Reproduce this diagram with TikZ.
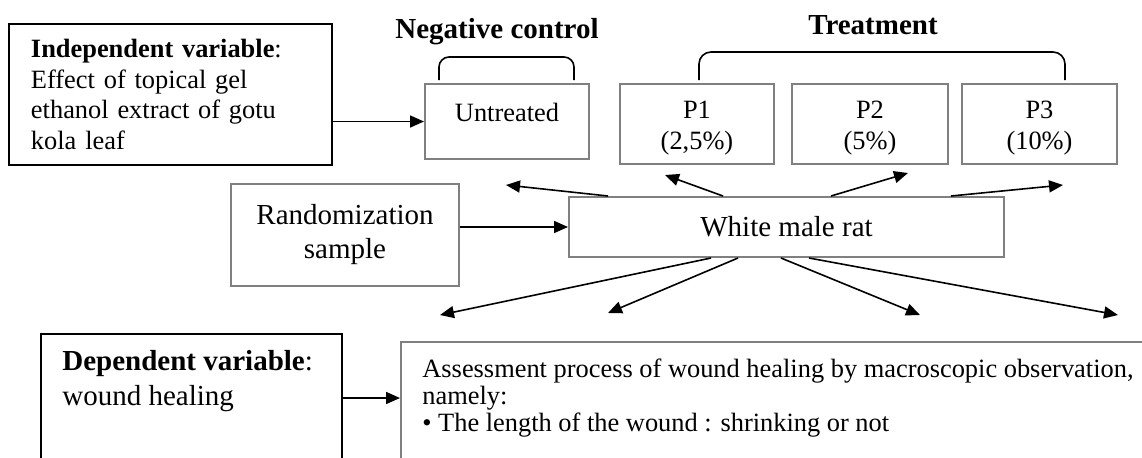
\documentclass[tikz,border=0pt]{standalone}
\usepackage{fontspec}
\setmainfont{Liberation Serif}
\usepackage{tikz}
\usetikzlibrary{
  arrows.meta,
  calc,
  positioning
}
\definecolor{framegray}{RGB}{128,128,128}
\tikzset{
  graybox/.style={draw=framegray,line width=1pt,inner sep=0pt,anchor=north west},
  blackbox/.style={draw=black,line width=1pt,inner sep=0pt,anchor=north west},
  bodytext/.style={font=\fontsize{13.2}{15.5}\selectfont,align=center,inner sep=0pt},
  linetext/.style={font=\fontsize{13.2}{13.5}\selectfont,inner sep=0pt,anchor=base west},
  headtext/.style={font=\fontsize{14.5}{17}\selectfont\bfseries,inner sep=0pt},
  bracket/.style={line width=0.8pt,rounded corners=5pt},
  flow/.style={-{Triangle[length=7pt,width=6pt]},line width=0.8pt}
}

\begin{document}
\begin{tikzpicture}[x=0.5pt,y=-0.5pt]
  \useasboundingbox (0,0) rectangle (1142,457);
  \clip (0,0) rectangle (1142,457);
  % variables
  \node[blackbox,minimum width=161.5pt,minimum height=70.5pt,inner xsep=11pt,
    text width=139.5pt,align=left,font=\fontsize{13.2}{15.3}\selectfont] (indep) at (8,23)
    {\textbf{Independent variable}:\\Effect of topical gel\\ethanol extract of gotu\\kola leaf};
  \node[blackbox,minimum width=150.5pt,minimum height=64pt] (dep) at (40,333) {};
  \node[anchor=north west,inner sep=0pt,align=left,font=\fontsize{14.5}{17.5}\selectfont]
    (deptext) at ($(dep.north west)+(22,17)$) {\textbf{Dependent variable}:\\wound healing};
  % groups
  \node[graybox,minimum width=82pt,minimum height=37.5pt] (untr) at (424,83) {};
  \node[bodytext] (untrtext) at ($(untr.north)+(0,29)$) {Untreated};
  \node[graybox,minimum width=77pt,minimum height=40pt] (pone) at (619,83) {};
  \node[bodytext] (ponetext) at ($(pone.center)+(0,4.5)$) {P1\\(2,5\%)};
  \node[graybox,minimum width=78pt,minimum height=40pt] (ptwo) at (791,83) {};
  \node[bodytext] (ptwotext) at ($(ptwo.center)+(0,4.5)$) {P2\\(5\%)};
  \node[graybox,minimum width=77.5pt,minimum height=40pt] (pthree) at (961,83) {};
  \node[bodytext] (pthreetext) at ($(pthree.center)+(0,4.5)$) {P3\\(10\%)};
  \node[headtext] (negctrl) at (497,32) {Negative control};
  \node[headtext] (treat) at (873,25) {Treatment};
  \draw[bracket] ($(untr.north west)+(15,-3)$) |- ($(untr.north east)+(-16,-26)$)
    -- ($(untr.north east)+(-16,-3)$);
  \draw[bracket,rounded corners=6pt] ($(pone.north west)+(80,-3)$) |- ($(pthree.north east)+(-53,-31)$)
    -- ($(pthree.north east)+(-53,-3)$);
  % sample
  \node[graybox,minimum width=114pt,minimum height=51pt,align=center,
    font=\fontsize{14.5}{17}\selectfont] (rand) at (230,183) {Randomization\\sample};
  \node[graybox,minimum width=217.5pt,minimum height=30pt,
    font=\fontsize{14.5}{17}\selectfont] (rat) at (568,196) {White male rat};
  \node[graybox,minimum width=380pt,minimum height=65pt] (assess) at (400,341) {};
  \node[linetext] (assessa) at ($(assess.north west)+(22,36)$)
    {Assessment process of wound healing by macroscopic observation,};
  \node[linetext] (assessb) at ($(assessa.base west)+(0,27)$) {namely:};
  \node[linetext] (assessc) at ($(assessb.base west)+(0,27)$)
    {\textbullet{} The length of the wound : shrinking or not};
  % arrow ends
  \coordinate (upuntr) at (506,185);
  \coordinate (upone) at (665,175);
  \coordinate (uptwo) at (908,173);
  \coordinate (upthree) at (1063,185);
  \coordinate (downuntr) at (440,315);
  \coordinate (downone) at (608,313);
  \coordinate (downtwo) at (920,315);
  \coordinate (downthree) at (1118,315);
  \draw[flow] (indep.east |- untr.west) -- (untr.west);
  \draw[flow] (rand.east |- rat.west) -- (rat.west);
  \draw[flow] (dep.east) -- (dep.east -| assess.west);
  \draw[flow] ($(rat.north)+(-178.5,0)$) -- (upuntr);
  \draw[flow] ($(rat.north)+(-63.5,0)$) -- (upone);
  \draw[flow] ($(rat.north)+(44.5,0)$) -- (uptwo);
  \draw[flow] ($(rat.north)+(164.5,0)$) -- (upthree);
  \draw[flow] ($(rat.south)+(-75.5,0)$) -- (downuntr);
  \draw[flow] ($(rat.south)+(-48.5,0)$) -- (downone);
  \draw[flow] ($(rat.south)+(-5.5,0)$) -- (downtwo);
  \draw[flow] ($(rat.south)+(22.5,0)$) -- (downthree);
\end{tikzpicture}
\end{document}
